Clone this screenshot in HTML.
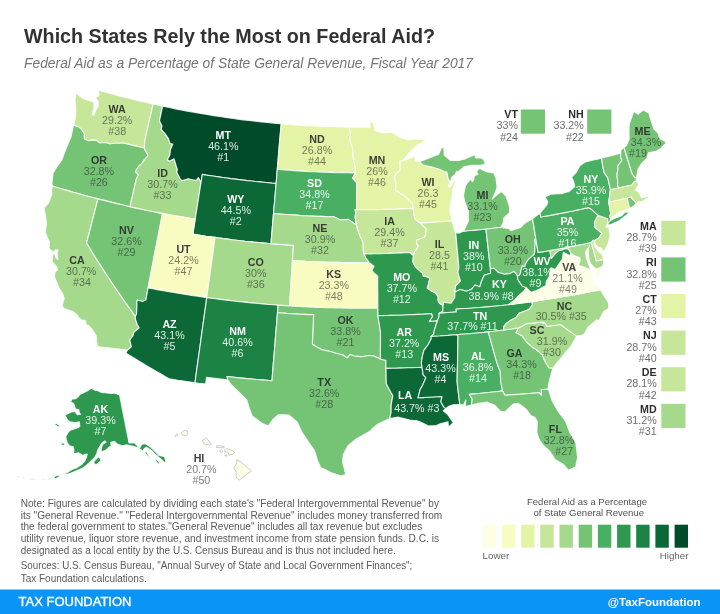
<!DOCTYPE html><html><head><meta charset="utf-8"><title>Which States Rely the Most on Federal Aid?</title>
<style>html,body{margin:0;padding:0;background:#fff}body{width:720px;height:614px;overflow:hidden}svg{display:block}text{font-family:"Liberation Sans",sans-serif}</style></head><body>
<svg width="720" height="614" viewBox="0 0 720 614">
<defs><filter id="soft" x="-2%" y="-2%" width="104%" height="104%"><feGaussianBlur stdDeviation="0.35"/></filter></defs>
<rect width="720" height="614" fill="#fff"/>
<g filter="url(#soft)">
<text x="24" y="43.3" font-size="21" font-weight="bold" fill="#333" textLength="411" lengthAdjust="spacingAndGlyphs">Which States Rely the Most on Federal Aid?</text>
<text x="24" y="67.7" font-size="14.5" font-style="italic" fill="#757575" textLength="449" lengthAdjust="spacingAndGlyphs">Federal Aid as a Percentage of State General Revenue, Fiscal Year 2017</text>
<g stroke="#fff" stroke-opacity="0.82" stroke-width="1.15" stroke-linejoin="round">
<path d="M73.5,125.1L74.9,119.6L75.6,115.6L75.7,112.3L75.7,108.9L75.4,104.5L75.0,100.1L75.5,96.5L76.1,92.9L78.4,94.8L80.8,96.7L83.1,98.5L85.7,99.4L88.3,100.2L90.9,101.0L94.1,102.4L93.9,108.1L93.0,111.3L92.2,114.6L94.0,115.1L95.8,110.2L98.5,105.5L98.1,101.5L96.0,98.6L96.3,96.8L98.5,96.2L99.1,94.1L97.7,89.8L101.3,90.9L105.0,91.9L108.7,92.9L112.4,93.9L116.1,94.9L119.7,95.9L123.4,96.9L127.1,97.8L130.8,98.8L134.5,99.7L138.2,100.6L142.0,101.5L145.7,102.3L149.4,103.2L153.1,104.0L151.9,109.4L150.7,114.7L149.4,120.1L148.2,125.5L147.0,130.8L145.8,136.2L144.6,141.6L144.5,144.8L144.4,148.0L140.9,147.2L137.4,146.4L133.9,145.6L130.4,144.8L126.9,143.9L123.4,143.1L119.6,143.2L117.1,143.2L114.5,143.2L112.3,143.5L110.0,143.9L107.8,143.2L105.5,142.5L102.5,142.8L99.6,143.0L96.6,140.4L92.5,140.1L88.0,140.7L84.5,138.9L84.0,136.4L84.4,134.2L82.9,131.8L81.4,129.4L78.9,127.1L76.2,126.1Z" fill="#c6e79a"/>
<path d="M144.4,148.0L140.9,147.2L137.4,146.4L133.9,145.6L130.4,144.8L126.9,143.9L123.4,143.1L119.6,143.2L117.1,143.2L114.5,143.2L112.3,143.5L110.0,143.9L107.8,143.2L105.5,142.5L102.5,142.8L99.6,143.0L96.6,140.4L92.5,140.1L88.0,140.7L84.5,138.9L84.0,136.4L84.4,134.2L82.9,131.8L81.4,129.4L78.9,127.1L76.2,126.1L73.5,125.1L72.3,130.8L71.1,136.5L68.8,142.1L66.4,147.7L64.8,151.9L63.2,156.2L61.6,160.4L59.2,163.6L56.8,166.8L55.0,169.9L53.2,173.0L52.7,176.3L52.3,179.7L51.9,184.8L53.0,186.2L57.1,187.5L61.2,188.7L65.2,189.9L69.3,191.1L73.4,192.3L77.5,193.4L81.6,194.5L85.7,195.7L89.8,196.8L93.9,197.8L98.0,198.9L102.0,199.9L106.0,200.9L110.0,201.9L114.0,202.9L118.0,203.9L122.0,204.8L126.0,205.7L130.0,206.7L131.2,201.2L132.5,195.8L133.7,190.4L134.9,185.0L136.1,179.7L137.5,176.6L138.6,175.0L135.9,172.3L136.1,170.1L138.9,166.1L141.7,163.6L144.4,159.6L147.5,156.4L147.6,154.1L145.3,150.5Z" fill="#74c476"/>
<path d="M53.0,186.2L57.1,187.5L61.2,188.7L65.2,189.9L69.3,191.1L73.4,192.3L77.5,193.4L81.6,194.5L85.7,195.7L89.8,196.8L93.9,197.8L98.0,198.9L96.6,204.4L95.1,209.9L93.7,215.4L92.3,220.9L90.9,226.4L89.5,232.0L88.0,237.5L86.6,243.0L89.9,248.3L93.1,253.6L96.4,258.9L99.8,264.1L103.2,269.4L106.6,274.7L110.1,279.9L113.6,285.2L117.1,290.4L120.7,295.6L124.3,300.8L128.0,306.0L131.7,311.2L135.4,316.4L135.3,318.7L137.3,324.5L139.2,327.9L133.9,332.3L132.9,336.0L129.8,340.0L130.6,343.4L131.4,346.9L127.5,350.0L123.2,349.6L118.9,349.1L114.6,348.6L110.3,348.1L106.0,347.6L101.7,347.1L97.4,346.5L96.6,341.4L96.2,335.9L93.9,332.2L91.5,328.6L88.4,325.4L86.0,324.9L85.7,320.7L82.1,320.1L78.8,317.7L77.0,314.6L74.9,313.1L72.8,311.5L68.3,310.0L63.8,308.4L62.1,305.9L63.1,302.1L64.2,298.3L62.6,293.7L60.8,290.6L58.9,287.5L56.6,282.1L54.3,276.8L55.0,272.2L57.5,269.8L57.0,267.3L54.7,264.6L52.3,262.0L52.2,257.2L53.2,253.6L54.7,253.5L56.3,258.8L58.0,259.3L56.9,253.8L58.1,250.2L55.6,249.5L53.6,252.4L51.2,250.4L48.9,248.4L49.5,242.2L47.3,237.2L45.2,232.2L45.8,228.0L46.5,223.9L45.9,219.6L45.4,215.3L44.7,211.8L44.1,208.2L46.4,205.3L48.8,202.4L50.4,198.1L52.0,193.9L51.4,189.2Z" fill="#a5da8d"/>
<path d="M98.0,198.9L102.0,199.9L106.0,200.9L110.0,201.9L114.0,202.9L118.0,203.9L122.0,204.8L126.0,205.7L130.0,206.7L134.1,207.6L138.1,208.4L142.2,209.3L146.2,210.2L150.3,211.0L154.4,211.8L158.4,212.6L162.5,213.4L161.4,219.1L160.3,224.9L159.2,230.6L158.1,236.3L157.0,242.0L155.8,247.8L154.7,253.5L153.6,259.2L152.5,265.0L151.4,270.7L150.3,276.4L149.2,282.2L148.1,287.9L147.0,293.9L145.9,299.9L142.4,301.5L139.8,300.8L137.2,300.0L136.9,302.7L136.9,307.4L136.7,310.8L136.5,314.3L135.4,316.4L131.7,311.2L128.0,306.0L124.3,300.8L120.7,295.6L117.1,290.4L113.6,285.2L110.1,279.9L106.6,274.7L103.2,269.4L99.8,264.1L96.4,258.9L93.1,253.6L89.9,248.3L86.6,243.0L88.0,237.5L89.5,232.0L90.9,226.4L92.3,220.9L93.7,215.4L95.1,209.9L96.6,204.4Z" fill="#74c476"/>
<path d="M153.1,104.0L156.3,104.8L159.5,105.5L162.7,106.1L161.6,111.0L160.6,115.8L159.5,120.7L161.9,125.8L161.3,129.5L163.0,131.4L164.7,133.2L166.6,135.9L168.4,138.6L170.0,143.5L172.8,144.0L170.4,149.7L169.9,154.9L167.4,159.5L169.2,161.2L174.0,158.8L175.0,162.0L176.1,165.7L177.3,169.3L176.8,172.3L178.6,175.7L180.4,179.1L181.8,180.6L185.0,179.7L188.1,178.8L190.3,179.2L192.6,179.7L196.5,180.3L198.3,177.6L201.1,182.2L200.2,187.4L199.4,192.7L198.6,198.0L197.7,203.3L196.9,208.6L196.0,213.9L195.2,219.2L191.1,218.5L187.0,217.8L182.9,217.1L178.8,216.4L174.7,215.7L170.7,215.0L166.6,214.2L162.5,213.4L158.4,212.6L154.4,211.8L150.3,211.0L146.2,210.2L142.2,209.3L138.1,208.4L134.1,207.6L130.0,206.7L131.2,201.2L132.5,195.8L133.7,190.4L134.9,185.0L136.1,179.7L137.5,176.6L138.6,175.0L135.9,172.3L136.1,170.1L138.9,166.1L141.7,163.6L144.4,159.6L147.5,156.4L147.6,154.1L145.3,150.5L144.4,148.0L144.5,144.8L144.6,141.6L145.8,136.2L147.0,130.8L148.2,125.5L149.4,120.1L150.7,114.7L151.9,109.4Z" fill="#a5da8d"/>
<path d="M162.7,106.1L166.6,107.0L170.5,107.8L174.4,108.6L178.3,109.4L182.2,110.1L186.2,110.9L190.1,111.6L194.0,112.3L198.0,113.0L201.9,113.7L205.8,114.3L209.8,115.0L213.7,115.6L217.7,116.2L221.6,116.8L225.6,117.4L229.5,118.0L233.5,118.5L237.5,119.1L241.4,119.6L245.4,120.1L249.4,120.5L253.3,121.0L257.3,121.5L261.3,121.9L265.2,122.3L269.2,122.7L273.2,123.1L277.2,123.4L281.2,123.8L280.7,129.5L280.2,135.1L279.7,140.8L279.2,146.5L278.7,152.2L278.3,157.9L277.8,163.6L277.3,169.3L276.9,174.0L276.5,178.7L276.1,183.4L272.0,183.1L267.9,182.7L263.8,182.3L259.6,181.9L255.5,181.5L251.4,181.0L247.3,180.6L243.2,180.1L239.1,179.6L235.0,179.1L230.9,178.6L226.8,178.0L222.7,177.5L218.7,176.9L214.6,176.3L210.5,175.7L206.4,175.1L202.3,174.4L201.7,178.3L201.1,182.2L198.3,177.6L196.5,180.3L192.6,179.7L190.3,179.2L188.1,178.8L185.0,179.7L181.8,180.6L180.4,179.1L178.6,175.7L176.8,172.3L177.3,169.3L176.1,165.7L175.0,162.0L174.0,158.8L169.2,161.2L167.4,159.5L169.9,154.9L170.4,149.7L172.8,144.0L170.0,143.5L168.4,138.6L166.6,135.9L164.7,133.2L163.0,131.4L161.3,129.5L161.9,125.8L159.5,120.7L160.6,115.8L161.6,111.0Z" fill="#054c2b"/>
<path d="M276.1,183.4L272.0,183.1L267.9,182.7L263.8,182.3L259.6,181.9L255.5,181.5L251.4,181.0L247.3,180.6L243.2,180.1L239.1,179.6L235.0,179.1L230.9,178.6L226.8,178.0L222.7,177.5L218.7,176.9L214.6,176.3L210.5,175.7L206.4,175.1L202.3,174.4L201.7,178.3L201.1,182.2L200.2,187.4L199.4,192.7L198.6,198.0L197.7,203.3L196.9,208.6L196.0,213.9L195.2,219.2L194.4,224.2L193.6,229.1L192.8,234.1L197.2,234.8L201.7,235.5L206.1,236.2L210.6,236.8L215.1,237.4L219.3,238.0L223.6,238.6L227.9,239.1L232.2,239.7L236.5,240.2L240.8,240.7L245.1,241.2L249.4,241.6L253.7,242.1L258.0,242.5L262.4,242.9L266.7,243.3L271.0,243.7L271.5,237.6L272.0,231.6L272.5,225.6L273.0,219.5L273.5,213.5L274.0,207.5L274.6,201.5L275.1,195.4L275.6,189.4Z" fill="#0b6837"/>
<path d="M162.5,213.4L166.6,214.2L170.7,215.0L174.7,215.7L178.8,216.4L182.9,217.1L187.0,217.8L191.1,218.5L195.2,219.2L194.4,224.2L193.6,229.1L192.8,234.1L197.2,234.8L201.7,235.5L206.1,236.2L210.6,236.8L215.1,237.4L214.2,243.5L213.4,249.5L212.6,255.5L211.7,261.5L210.9,267.5L210.1,273.5L209.2,279.5L208.4,285.6L207.6,291.6L206.7,297.6L202.2,297.0L197.7,296.3L193.2,295.6L188.6,294.9L184.1,294.2L179.6,293.5L175.1,292.8L170.6,292.0L166.1,291.2L161.6,290.4L157.1,289.6L152.6,288.8L148.1,287.9L149.2,282.2L150.3,276.4L151.4,270.7L152.5,265.0L153.6,259.2L154.7,253.5L155.8,247.8L157.0,242.0L158.1,236.3L159.2,230.6L160.3,224.9L161.4,219.1Z" fill="#f9fcc0"/>
<path d="M215.1,237.4L219.3,238.0L223.6,238.6L227.9,239.1L232.2,239.7L236.5,240.2L240.8,240.7L245.1,241.2L249.4,241.6L253.7,242.1L258.0,242.5L262.4,242.9L266.7,243.3L271.0,243.7L275.5,244.1L280.0,244.4L284.4,244.7L288.9,245.1L293.4,245.4L293.1,250.4L292.8,255.4L292.5,260.5L292.1,266.2L291.7,271.9L291.4,277.5L291.0,283.2L290.6,288.9L290.3,294.6L289.9,300.3L289.6,305.9L285.7,305.7L281.9,305.4L278.1,305.2L273.6,304.8L269.1,304.5L264.6,304.1L260.2,303.7L255.7,303.3L251.3,302.9L246.8,302.4L242.3,301.9L237.9,301.5L233.4,301.0L229.0,300.4L224.5,299.9L220.1,299.4L215.6,298.8L211.2,298.2L206.7,297.6L207.6,291.6L208.4,285.6L209.2,279.5L210.1,273.5L210.9,267.5L211.7,261.5L212.6,255.5L213.4,249.5L214.2,243.5Z" fill="#a5da8d"/>
<path d="M148.1,287.9L152.6,288.8L157.1,289.6L161.6,290.4L166.1,291.2L170.6,292.0L175.1,292.8L179.6,293.5L184.1,294.2L188.6,294.9L193.2,295.6L197.7,296.3L202.2,297.0L206.7,297.6L206.0,303.3L205.2,309.0L204.4,314.6L203.6,320.3L202.8,326.0L202.0,331.7L201.2,337.4L200.5,343.0L199.7,348.7L198.9,354.4L198.1,360.0L197.3,365.7L196.5,371.4L195.8,377.0L195.0,382.7L190.7,382.1L186.5,381.5L182.2,380.8L177.9,380.2L173.7,379.5L169.4,378.9L165.0,376.4L160.6,373.8L156.1,371.3L151.8,368.7L147.4,366.2L143.0,363.6L138.7,361.0L134.4,358.3L130.1,355.7L125.8,353.1L127.5,350.0L131.4,346.9L130.6,343.4L129.8,340.0L132.9,336.0L133.9,332.3L139.2,327.9L137.3,324.5L135.3,318.7L135.4,316.4L136.5,314.3L136.7,310.8L136.9,307.4L136.9,302.7L137.2,300.0L139.8,300.8L142.4,301.5L145.9,299.9L147.0,293.9Z" fill="#0b6837"/>
<path d="M206.7,297.6L211.2,298.2L215.6,298.8L220.1,299.4L224.5,299.9L229.0,300.4L233.4,301.0L237.9,301.5L242.3,301.9L246.8,302.4L251.3,302.9L255.7,303.3L260.2,303.7L264.6,304.1L269.1,304.5L273.6,304.8L278.1,305.2L277.8,308.9L277.5,312.7L277.0,318.4L276.6,324.1L276.1,329.7L275.6,335.4L275.2,341.1L274.7,346.7L274.3,352.4L273.8,358.1L273.3,363.7L272.9,369.4L272.4,375.0L272.0,380.7L266.9,380.3L261.9,379.9L256.9,379.5L251.9,379.0L246.9,378.6L241.9,378.1L237.0,377.6L232.0,377.0L227.0,376.5L227.7,379.9L223.5,379.4L219.2,378.9L215.0,378.4L210.8,377.9L206.5,377.4L206.1,380.7L205.6,384.1L202.1,383.6L198.5,383.2L195.0,382.7L195.8,377.0L196.5,371.4L197.3,365.7L198.1,360.0L198.9,354.4L199.7,348.7L200.5,343.0L201.2,337.4L202.0,331.7L202.8,326.0L203.6,320.3L204.4,314.6L205.2,309.0L206.0,303.3Z" fill="#1b8344"/>
<path d="M281.2,123.8L284.9,124.1L288.7,124.4L292.5,124.7L296.2,124.9L300.0,125.2L303.8,125.4L307.6,125.7L311.4,125.9L315.1,126.1L318.9,126.2L322.7,126.4L326.5,126.5L330.3,126.7L334.1,126.8L337.8,126.9L341.6,127.0L345.4,127.1L349.2,127.1L350.4,133.1L349.8,139.0L350.8,143.5L352.8,148.0L352.9,152.5L352.9,157.0L354.1,162.2L355.2,167.5L355.6,172.9L351.5,172.9L347.4,172.8L343.2,172.7L339.1,172.7L335.0,172.6L330.8,172.4L326.7,172.3L322.6,172.2L318.5,172.0L314.4,171.8L310.2,171.6L306.1,171.4L302.0,171.1L297.9,170.9L293.7,170.6L289.6,170.3L285.5,170.0L281.4,169.7L277.3,169.3L277.8,163.6L278.3,157.9L278.7,152.2L279.2,146.5L279.7,140.8L280.2,135.1L280.7,129.5Z" fill="#e3f4a6"/>
<path d="M355.6,172.9L351.5,172.9L347.4,172.8L343.2,172.7L339.1,172.7L335.0,172.6L330.8,172.4L326.7,172.3L322.6,172.2L318.5,172.0L314.4,171.8L310.2,171.6L306.1,171.4L302.0,171.1L297.9,170.9L293.7,170.6L289.6,170.3L285.5,170.0L281.4,169.7L277.3,169.3L276.9,174.0L276.5,178.7L276.1,183.4L275.6,189.4L275.1,195.4L274.6,201.5L274.0,207.5L273.5,213.5L277.9,213.9L282.2,214.2L286.5,214.5L290.8,214.8L295.2,215.1L299.5,215.4L303.8,215.6L308.1,215.9L312.5,216.1L316.8,216.3L321.1,216.4L325.5,216.6L329.8,216.7L334.1,216.9L337.4,218.5L340.6,220.0L344.5,219.7L348.3,219.4L351.0,221.3L353.8,223.3L356.5,224.8L355.8,221.0L355.1,217.2L355.8,212.7L355.0,209.7L356.6,209.7L356.6,204.2L356.6,198.8L356.7,193.4L356.7,187.9L356.7,182.5L352.5,178.0Z" fill="#49b063"/>
<path d="M356.5,224.8L353.8,223.3L351.0,221.3L348.3,219.4L344.5,219.7L340.6,220.0L337.4,218.5L334.1,216.9L329.8,216.7L325.5,216.6L321.1,216.4L316.8,216.3L312.5,216.1L308.1,215.9L303.8,215.6L299.5,215.4L295.2,215.1L290.8,214.8L286.5,214.5L282.2,214.2L277.9,213.9L273.5,213.5L273.0,219.5L272.5,225.6L272.0,231.6L271.5,237.6L271.0,243.7L275.5,244.1L280.0,244.4L284.4,244.7L288.9,245.1L293.4,245.4L293.1,250.4L292.8,255.4L292.5,260.5L297.0,260.8L301.5,261.0L306.0,261.3L310.5,261.5L315.1,261.7L319.6,261.9L324.1,262.0L328.6,262.2L333.1,262.3L337.7,262.4L342.2,262.5L346.7,262.6L351.2,262.6L355.8,262.7L360.3,262.7L364.8,262.7L369.3,262.7L366.0,258.1L364.1,253.9L363.2,250.5L363.2,246.9L363.2,243.3L362.4,240.7L360.4,236.9L359.0,233.1L357.6,229.3Z" fill="#a5da8d"/>
<path d="M369.3,262.7L364.8,262.7L360.3,262.7L355.8,262.7L351.2,262.6L346.7,262.6L342.2,262.5L337.7,262.4L333.1,262.3L328.6,262.2L324.1,262.0L319.6,261.9L315.1,261.7L310.5,261.5L306.0,261.3L301.5,261.0L297.0,260.8L292.5,260.5L292.1,266.2L291.7,271.9L291.4,277.5L291.0,283.2L290.6,288.9L290.3,294.6L289.9,300.3L289.6,305.9L294.2,306.2L298.8,306.5L303.5,306.7L308.1,307.0L312.8,307.2L317.4,307.4L322.1,307.5L326.7,307.7L331.4,307.8L336.0,308.0L340.7,308.0L345.3,308.1L350.0,308.2L354.6,308.2L359.3,308.2L363.9,308.2L368.6,308.2L373.2,308.2L377.9,308.1L377.8,302.8L377.8,297.4L377.8,292.0L377.7,286.7L377.7,281.3L377.7,275.9L374.2,273.2L371.8,270.2L374.1,266.4L371.7,264.5Z" fill="#f9fcc0"/>
<path d="M377.9,308.1L373.2,308.2L368.6,308.2L363.9,308.2L359.3,308.2L354.6,308.2L350.0,308.2L345.3,308.1L340.7,308.0L336.0,308.0L331.4,307.8L326.7,307.7L322.1,307.5L317.4,307.4L312.8,307.2L308.1,307.0L303.5,306.7L298.8,306.5L294.2,306.2L289.6,305.9L285.7,305.7L281.9,305.4L278.1,305.2L277.8,308.9L277.5,312.7L282.0,313.0L286.5,313.4L291.0,313.6L295.5,313.9L300.0,314.2L304.6,314.4L309.1,314.6L313.6,314.8L313.3,320.7L313.1,326.6L312.8,332.5L312.6,338.3L312.4,344.2L314.8,345.7L317.2,347.2L322.0,349.8L326.3,350.6L330.6,351.5L333.7,352.5L336.7,353.5L339.8,354.3L342.9,355.1L347.2,357.9L350.3,354.5L354.0,356.0L357.8,356.4L361.5,356.8L364.6,356.2L367.7,355.6L370.8,355.8L373.9,356.0L377.1,357.5L380.4,359.1L380.4,353.7L380.4,348.4L380.5,343.0L380.5,337.7L380.5,332.4L379.7,326.8L378.8,321.3L378.0,315.7L377.9,311.9Z" fill="#74c476"/>
<path d="M380.4,359.1L377.1,357.5L373.9,356.0L370.8,355.8L367.7,355.6L364.6,356.2L361.5,356.8L357.8,356.4L354.0,356.0L350.3,354.5L347.2,357.9L342.9,355.1L339.8,354.3L336.7,353.5L333.7,352.5L330.6,351.5L326.3,350.6L322.0,349.8L317.2,347.2L314.8,345.7L312.4,344.2L312.6,338.3L312.8,332.5L313.1,326.6L313.3,320.7L313.6,314.8L309.1,314.6L304.6,314.4L300.0,314.2L295.5,313.9L291.0,313.6L286.5,313.4L282.0,313.0L277.5,312.7L277.0,318.4L276.6,324.1L276.1,329.7L275.6,335.4L275.2,341.1L274.7,346.7L274.3,352.4L273.8,358.1L273.3,363.7L272.9,369.4L272.4,375.0L272.0,380.7L266.9,380.3L261.9,379.9L256.9,379.5L251.9,379.0L246.9,378.6L241.9,378.1L237.0,377.6L232.0,377.0L227.0,376.5L227.7,379.9L231.4,385.0L234.9,388.4L238.4,391.7L242.6,395.7L246.7,399.8L247.8,403.4L248.9,407.1L250.5,411.5L252.1,416.0L256.9,419.5L261.7,423.0L264.9,424.5L268.1,426.0L270.3,423.0L272.4,420.0L278.0,414.8L280.7,414.8L283.3,414.7L286.2,414.9L289.1,415.1L293.2,418.7L297.3,422.3L299.6,427.3L302.0,432.3L306.2,438.5L310.3,444.7L314.6,450.8L316.0,455.4L317.3,459.9L319.0,463.7L320.7,467.5L325.8,470.0L330.8,472.6L335.9,474.2L341.0,475.7L345.8,474.6L344.7,470.4L343.6,466.2L342.6,462.0L342.9,458.3L343.3,454.6L345.7,450.1L348.1,445.6L352.2,442.3L356.2,439.0L361.0,436.2L365.9,433.5L370.7,430.7L373.3,427.7L378.5,423.8L382.2,422.0L386.0,420.2L389.7,418.4L390.4,415.3L391.1,412.3L391.1,408.6L391.2,404.8L392.0,400.2L392.9,395.7L391.2,392.7L389.5,389.7L386.3,383.8L386.2,378.6L386.1,373.5L386.0,368.3L385.9,364.3L385.9,360.3L383.1,359.7Z" fill="#74c476"/>
<path d="M349.2,127.1L352.6,127.2L356.1,127.2L359.6,127.2L363.0,127.2L366.5,127.2L370.0,127.2L369.9,121.5L373.4,122.2L374.2,126.5L375.0,130.8L377.9,131.5L380.7,132.2L383.6,132.9L386.1,132.6L388.6,132.3L392.1,132.3L395.5,134.6L398.8,136.9L401.9,137.9L405.0,138.9L408.1,139.9L411.4,139.5L414.6,139.1L417.8,139.3L421.0,139.5L424.2,139.7L427.4,139.8L424.1,141.5L420.8,143.2L417.5,144.9L413.6,148.5L409.7,152.1L406.3,156.4L402.9,160.6L399.9,161.4L400.1,165.8L400.2,170.2L398.2,171.9L396.1,173.7L394.1,177.5L395.8,181.9L395.7,186.1L395.6,190.2L398.3,192.0L401.0,193.8L405.5,196.6L408.8,199.9L412.2,203.1L413.3,208.4L409.3,208.6L405.2,208.7L401.2,208.9L397.1,209.1L393.1,209.2L389.0,209.3L385.0,209.4L380.9,209.5L376.9,209.6L372.8,209.6L368.8,209.6L364.7,209.7L360.6,209.7L356.6,209.7L356.6,204.2L356.6,198.8L356.7,193.4L356.7,187.9L356.7,182.5L352.5,178.0L355.6,172.9L355.2,167.5L354.1,162.2L352.9,157.0L352.9,152.5L352.8,148.0L350.8,143.5L349.8,139.0L350.4,133.1Z" fill="#e3f4a6"/>
<path d="M413.3,208.4L409.3,208.6L405.2,208.7L401.2,208.9L397.1,209.1L393.1,209.2L389.0,209.3L385.0,209.4L380.9,209.5L376.9,209.6L372.8,209.6L368.8,209.6L364.7,209.7L360.6,209.7L356.6,209.7L355.0,209.7L355.8,212.7L355.1,217.2L355.8,221.0L356.5,224.8L357.6,229.3L359.0,233.1L360.4,236.9L362.4,240.7L363.2,243.3L363.2,246.9L363.2,250.5L364.1,253.9L368.2,253.8L372.4,253.8L376.6,253.7L380.7,253.6L384.9,253.5L389.0,253.4L393.2,253.2L397.3,253.1L401.5,252.9L405.6,252.7L409.8,252.5L413.5,255.7L414.6,251.8L417.0,248.8L418.3,246.0L416.4,243.1L416.8,240.0L420.7,238.7L424.5,237.3L426.0,233.4L426.3,228.9L423.3,226.0L420.4,223.1L417.9,221.4L415.5,219.6L413.9,215.1L413.6,211.8Z" fill="#c6e79a"/>
<path d="M413.5,255.7L409.8,252.5L405.6,252.7L401.5,252.9L397.3,253.1L393.2,253.2L389.0,253.4L384.9,253.5L380.7,253.6L376.6,253.7L372.4,253.8L368.2,253.8L364.1,253.9L366.0,258.1L369.3,262.7L371.7,264.5L374.1,266.4L371.8,270.2L374.2,273.2L377.7,275.9L377.7,281.3L377.7,286.7L377.8,292.0L377.8,297.4L377.8,302.8L377.9,308.1L377.9,311.9L378.0,315.7L382.5,315.6L386.9,315.5L391.4,315.4L395.8,315.3L400.3,315.2L404.8,315.0L409.2,314.8L413.7,314.6L418.1,314.4L422.6,314.2L427.0,313.9L431.5,313.7L432.3,316.7L429.3,321.4L433.3,321.2L437.4,320.9L438.9,317.0L439.2,313.2L442.7,311.4L443.1,305.6L439.5,303.3L438.2,301.1L438.1,296.0L434.3,292.2L431.2,290.9L427.3,288.1L428.3,285.0L429.1,281.4L429.7,278.8L428.9,277.5L425.7,276.4L423.4,276.4L422.4,273.1L418.4,269.6L414.8,265.9L412.8,261.5Z" fill="#2d9850"/>
<path d="M437.4,320.9L433.3,321.2L429.3,321.4L432.3,316.7L431.5,313.7L427.0,313.9L422.6,314.2L418.1,314.4L413.7,314.6L409.2,314.8L404.8,315.0L400.3,315.2L395.8,315.3L391.4,315.4L386.9,315.5L382.5,315.6L378.0,315.7L378.8,321.3L379.7,326.8L380.5,332.4L380.5,337.7L380.5,343.0L380.4,348.4L380.4,353.7L380.4,359.1L383.1,359.7L385.9,360.3L385.9,364.3L386.0,368.3L390.5,368.3L395.0,368.2L399.5,368.1L404.0,368.0L408.5,367.8L413.0,367.7L417.5,367.5L422.0,367.4L421.4,362.8L421.8,359.8L422.3,356.7L423.8,350.6L426.1,347.4L428.4,344.3L431.2,338.8L431.1,336.5L433.4,334.4L434.8,328.7L436.1,324.8Z" fill="#2d9850"/>
<path d="M422.0,367.4L417.5,367.5L413.0,367.7L408.5,367.8L404.0,368.0L399.5,368.1L395.0,368.2L390.5,368.3L386.0,368.3L386.1,373.5L386.2,378.6L386.3,383.8L389.5,389.7L391.2,392.7L392.9,395.7L392.0,400.2L391.2,404.8L391.1,408.6L391.1,412.3L390.4,415.3L389.7,418.4L393.8,417.7L398.0,417.1L401.9,418.1L405.9,419.1L409.9,420.0L413.1,420.3L416.4,420.5L419.8,421.8L423.1,423.2L428.5,425.9L432.5,425.7L436.4,425.5L440.2,423.7L444.1,422.7L448.0,421.7L448.4,426.9L450.9,424.9L453.3,422.8L450.4,418.5L447.5,414.2L443.3,410.7L445.8,408.6L443.7,406.9L440.8,401.8L442.0,396.5L437.2,396.8L432.4,397.0L427.6,397.3L422.8,397.6L418.0,397.8L419.1,393.6L420.2,389.4L422.5,385.5L424.2,381.6L425.9,377.7L423.2,374.9L422.6,371.1Z" fill="#0b6837"/>
<path d="M402.9,160.6L406.9,159.2L411.0,157.7L414.6,156.3L415.8,160.8L419.5,161.7L422.8,164.9L426.4,165.7L429.9,166.6L433.4,167.4L436.1,168.2L438.8,169.0L441.5,170.3L444.3,171.6L446.9,172.1L448.0,178.0L449.6,181.4L450.5,181.9L448.6,185.5L449.4,187.7L451.8,184.8L454.0,180.2L456.0,178.8L454.9,184.2L452.9,188.9L452.4,195.1L451.8,198.5L451.1,202.0L449.7,208.2L450.2,212.7L451.6,217.1L451.7,220.9L447.8,221.2L443.9,221.5L440.0,221.8L436.0,222.1L432.1,222.4L428.2,222.7L424.3,222.9L420.4,223.1L417.9,221.4L415.5,219.6L413.9,215.1L413.6,211.8L413.3,208.4L412.2,203.1L408.8,199.9L405.5,196.6L401.0,193.8L398.3,192.0L395.6,190.2L395.7,186.1L395.8,181.9L394.1,177.5L396.1,173.7L398.2,171.9L400.2,170.2L400.1,165.8L399.9,161.4Z" fill="#e3f4a6"/>
<path d="M420.4,223.1L424.3,222.9L428.2,222.7L432.1,222.4L436.0,222.1L440.0,221.8L443.9,221.5L447.8,221.2L451.7,220.9L453.2,225.7L454.8,230.5L455.7,232.7L456.3,238.6L456.8,244.5L457.3,250.4L457.9,256.4L458.4,262.3L458.9,268.2L457.9,272.1L459.1,276.6L460.4,281.0L458.0,283.5L455.6,286.0L455.2,289.1L454.9,292.2L454.8,297.5L451.1,303.2L448.1,302.9L443.8,302.2L443.1,305.6L439.5,303.3L438.2,301.1L438.1,296.0L434.3,292.2L431.2,290.9L427.3,288.1L428.3,285.0L429.1,281.4L429.7,278.8L428.9,277.5L425.7,276.4L423.4,276.4L422.4,273.1L418.4,269.6L414.8,265.9L412.8,261.5L413.5,255.7L414.6,251.8L417.0,248.8L418.3,246.0L416.4,243.1L416.8,240.0L420.7,238.7L424.5,237.3L426.0,233.4L426.3,228.9L423.3,226.0Z" fill="#c6e79a"/>
<path d="M455.7,232.7L459.5,233.1L463.5,231.1L467.3,230.8L471.0,230.5L474.7,230.1L478.5,229.8L482.2,229.5L485.9,229.1L486.6,234.8L487.2,240.4L487.9,246.1L488.5,251.8L489.1,257.4L489.8,263.1L490.4,268.8L490.6,273.3L487.5,274.2L484.4,275.1L482.7,278.8L481.1,282.5L479.8,286.8L474.9,285.0L471.7,289.1L468.9,290.2L466.0,291.2L463.0,290.3L460.0,289.5L457.4,290.8L454.9,292.2L455.2,289.1L455.6,286.0L458.0,283.5L460.4,281.0L459.1,276.6L457.9,272.1L458.9,268.2L458.4,262.3L457.9,256.4L457.3,250.4L456.8,244.5L456.3,238.6Z" fill="#2d9850"/>
<path d="M500.9,227.2L503.5,222.0L503.6,218.2L506.5,215.5L509.5,212.8L509.5,206.6L507.8,201.5L506.1,196.4L501.5,191.4L499.3,193.0L497.1,194.6L494.6,196.9L492.2,199.1L493.9,195.4L495.6,191.8L497.1,187.0L496.5,182.5L495.9,178.0L493.7,173.0L490.1,172.4L486.6,171.7L482.9,170.0L479.3,168.3L476.5,171.4L477.9,174.3L474.3,175.9L473.5,180.1L472.3,181.7L471.2,178.8L469.2,180.9L467.1,183.0L465.3,186.2L464.4,190.9L463.5,195.5L464.7,201.5L466.5,206.2L468.4,211.0L468.3,215.9L468.3,220.9L465.6,227.2L463.5,231.1L467.3,230.8L471.0,230.5L474.7,230.1L478.5,229.8L482.2,229.5L485.9,229.1L489.7,228.7L493.4,228.2L497.1,227.7ZM419.5,161.7L422.1,160.8L424.6,159.8L427.9,158.4L431.1,157.1L434.9,155.7L438.7,154.3L440.0,151.2L441.3,148.1L443.8,147.2L444.0,151.1L444.2,155.0L447.4,157.8L450.5,160.5L453.3,160.5L456.2,160.5L459.0,160.4L461.5,159.8L464.1,159.2L467.6,157.7L471.2,156.2L474.7,154.7L476.0,158.1L478.0,158.0L480.1,157.8L483.5,159.2L485.6,163.9L482.5,164.7L479.5,165.4L477.8,165.2L474.4,165.2L471.0,165.2L467.6,166.0L464.1,166.8L461.6,168.9L459.0,171.0L456.4,171.7L455.1,174.4L451.5,177.4L450.5,181.9L449.6,181.4L448.0,178.0L446.9,172.1L444.3,171.6L441.5,170.3L438.8,169.0L436.1,168.2L433.4,167.4L429.9,166.6L426.4,165.7L422.8,164.9Z" fill="#74c476"/>
<path d="M485.9,229.1L489.7,228.7L493.4,228.2L497.1,227.7L500.9,227.2L503.5,227.7L506.1,228.2L509.3,228.7L510.9,230.6L515.2,229.2L517.9,228.4L520.6,227.5L524.0,223.8L526.8,222.0L529.6,220.3L532.5,218.7L533.4,223.7L534.2,228.7L535.0,233.7L535.8,238.7L534.5,239.9L535.3,242.8L534.9,247.2L535.0,249.9L534.3,254.2L531.6,256.6L528.9,258.9L527.2,261.2L525.6,264.0L524.8,266.7L522.4,266.0L521.7,268.0L521.0,270.1L520.5,273.2L519.1,275.7L517.4,275.7L513.8,271.4L510.0,273.6L507.1,273.9L504.2,274.2L501.1,273.3L498.1,272.4L494.1,268.3L490.4,268.8L489.8,263.1L489.1,257.4L488.5,251.8L487.9,246.1L487.2,240.4L486.6,234.8Z" fill="#74c476"/>
<path d="M517.4,275.7L513.8,271.4L510.0,273.6L507.1,273.9L504.2,274.2L501.1,273.3L498.1,272.4L494.1,268.3L490.4,268.8L490.6,273.3L487.5,274.2L484.4,275.1L482.7,278.8L481.1,282.5L479.8,286.8L474.9,285.0L471.7,289.1L468.9,290.2L466.0,291.2L463.0,290.3L460.0,289.5L457.4,290.8L454.9,292.2L454.8,297.5L451.1,303.2L448.1,302.9L443.8,302.2L443.1,305.6L442.7,311.4L439.2,313.2L443.5,312.9L447.8,312.5L452.1,312.2L456.3,311.9L456.1,309.1L460.9,308.8L465.6,308.5L470.4,308.2L475.2,307.8L479.9,307.5L484.7,307.1L489.5,306.6L494.2,306.2L499.0,305.7L503.7,305.3L508.5,304.8L511.6,302.4L514.7,300.1L518.9,295.7L521.1,293.8L523.2,292.0L526.5,287.8L522.3,286.0L520.1,282.9L517.9,279.7Z" fill="#2d9850"/>
<path d="M439.2,313.2L443.5,312.9L447.8,312.5L452.1,312.2L456.3,311.9L456.1,309.1L460.9,308.8L465.6,308.5L470.4,308.2L475.2,307.8L479.9,307.5L484.7,307.1L489.5,306.6L494.2,306.2L499.0,305.7L503.7,305.3L508.5,304.8L513.2,304.2L517.9,303.5L522.7,302.9L527.4,302.3L532.1,301.6L532.4,305.2L528.8,309.6L525.6,310.8L522.5,312.0L519.0,313.3L515.9,317.6L513.1,319.1L510.2,320.6L506.3,323.4L503.6,326.8L503.8,330.0L499.9,330.5L496.0,331.0L492.2,331.5L488.3,331.9L483.8,332.4L479.2,332.8L474.7,333.2L470.2,333.6L465.7,334.0L461.2,334.3L456.6,334.7L452.4,335.0L448.1,335.4L443.8,335.7L439.6,336.0L435.3,336.2L431.1,336.5L433.4,334.4L434.8,328.7L436.1,324.8L437.4,320.9L438.9,317.0Z" fill="#2d9850"/>
<path d="M431.1,336.5L435.3,336.2L439.6,336.0L443.8,335.7L448.1,335.4L452.4,335.0L456.6,334.7L458.0,336.2L457.9,341.9L457.8,347.6L457.7,353.3L457.6,359.0L457.5,364.7L457.3,370.4L457.2,376.1L457.1,381.7L457.7,387.4L458.4,393.1L459.1,398.8L459.8,404.5L456.5,404.6L453.3,404.7L448.2,406.6L445.8,408.6L443.7,406.9L440.8,401.8L442.0,396.5L437.2,396.8L432.4,397.0L427.6,397.3L422.8,397.6L418.0,397.8L419.1,393.6L420.2,389.4L422.5,385.5L424.2,381.6L425.9,377.7L423.2,374.9L422.6,371.1L422.0,367.4L421.4,362.8L421.8,359.8L422.3,356.7L423.8,350.6L426.1,347.4L428.4,344.3L431.2,338.8Z" fill="#0b6837"/>
<path d="M456.6,334.7L461.2,334.3L465.7,334.0L470.2,333.6L474.7,333.2L479.2,332.8L483.8,332.4L488.3,331.9L489.7,337.2L491.2,342.4L492.6,347.6L494.1,352.8L495.5,357.9L497.0,363.1L498.6,367.3L500.2,371.4L500.5,376.7L500.8,382.0L501.7,386.5L502.5,390.9L497.8,391.5L493.0,392.0L488.3,392.5L483.5,393.0L478.8,393.5L474.0,393.9L469.3,394.3L472.3,399.4L471.3,405.1L468.2,405.7L465.1,406.4L465.5,403.1L465.9,399.9L463.7,404.7L459.8,404.5L459.1,398.8L458.4,393.1L457.7,387.4L457.1,381.7L457.2,376.1L457.3,370.4L457.5,364.7L457.6,359.0L457.7,353.3L457.8,347.6L457.9,341.9L458.0,336.2Z" fill="#49b063"/>
<path d="M488.3,331.9L492.2,331.5L496.0,331.0L499.9,330.5L503.8,330.0L507.5,329.5L511.2,329.0L514.9,328.4L518.5,327.9L516.1,332.8L519.1,334.3L522.1,335.8L524.4,339.0L526.7,342.1L532.5,347.4L535.9,349.2L539.2,352.1L542.5,355.1L544.7,360.8L546.8,364.3L548.9,367.8L552.9,368.3L551.6,372.5L550.4,376.8L549.4,380.8L548.4,384.7L548.4,389.1L544.8,389.4L541.3,389.6L541.5,395.5L539.1,392.7L534.2,393.1L529.3,393.5L524.4,393.9L519.5,394.2L514.6,394.6L509.7,394.9L504.8,395.2L502.5,390.9L501.7,386.5L500.8,382.0L500.5,376.7L500.2,371.4L498.6,367.3L497.0,363.1L495.5,357.9L494.1,352.8L492.6,347.6L491.2,342.4L489.7,337.2Z" fill="#74c476"/>
<path d="M502.5,390.9L504.8,395.2L509.7,394.9L514.6,394.6L519.5,394.2L524.4,393.9L529.3,393.5L534.2,393.1L539.1,392.7L541.5,395.5L541.3,389.6L544.8,389.4L548.4,389.1L549.6,393.1L550.9,397.0L552.2,400.9L554.9,405.8L557.7,410.7L561.5,415.8L565.3,420.9L566.9,424.9L568.5,429.0L570.1,433.0L572.9,437.8L575.8,442.7L576.4,447.6L577.0,452.5L577.6,457.5L576.6,462.2L575.7,466.9L572.1,468.6L568.6,470.3L566.0,467.3L563.4,464.3L559.3,461.9L555.1,459.6L552.4,455.4L549.8,451.3L545.8,447.4L543.1,445.2L541.1,442.2L539.2,439.3L538.0,436.0L536.9,432.8L537.1,427.1L537.3,421.4L534.7,417.2L530.9,415.7L528.3,412.1L525.6,408.6L522.0,406.0L518.4,403.4L513.2,404.1L509.1,408.0L504.9,411.9L500.3,411.2L497.6,408.3L495.0,405.4L490.9,403.7L486.9,402.1L482.4,402.7L477.9,403.4L474.6,404.2L471.3,405.1L472.3,399.4L469.3,394.3L474.0,393.9L478.8,393.5L483.5,393.0L488.3,392.5L493.0,392.0L497.8,391.5Z" fill="#74c476"/>
<path d="M518.5,327.9L522.6,325.8L526.6,323.7L530.7,323.3L534.8,322.9L538.9,322.5L543.0,322.0L543.2,323.5L544.5,322.5L547.0,326.4L551.5,325.8L556.0,325.2L560.5,324.5L565.8,328.4L571.2,332.2L576.6,336.1L574.0,340.9L571.4,345.6L568.7,348.8L566.1,351.9L562.4,356.4L559.8,359.6L557.1,362.7L552.9,368.3L548.9,367.8L546.8,364.3L544.7,360.8L542.5,355.1L539.2,352.1L535.9,349.2L532.5,347.4L526.7,342.1L524.4,339.0L522.1,335.8L519.1,334.3L516.1,332.8Z" fill="#a5da8d"/>
<path d="M600.6,289.7L596.0,290.6L591.5,291.5L586.9,292.4L582.4,293.2L577.8,294.1L573.3,294.9L568.7,295.7L564.1,296.5L559.6,297.3L555.0,298.1L550.4,298.8L545.8,299.5L541.3,300.2L536.7,300.9L532.1,301.6L532.4,305.2L528.8,309.6L525.6,310.8L522.5,312.0L519.0,313.3L515.9,317.6L513.1,319.1L510.2,320.6L506.3,323.4L503.6,326.8L503.8,330.0L507.5,329.5L511.2,329.0L514.9,328.4L518.5,327.9L522.6,325.8L526.6,323.7L530.7,323.3L534.8,322.9L538.9,322.5L543.0,322.0L543.2,323.5L544.5,322.5L547.0,326.4L551.5,325.8L556.0,325.2L560.5,324.5L565.8,328.4L571.2,332.2L576.6,336.1L580.2,335.5L583.9,334.8L586.0,331.0L588.1,327.1L592.4,323.5L596.7,319.9L599.2,320.2L601.4,315.8L603.6,311.5L606.2,309.9L608.8,308.4L608.6,302.7L605.8,298.6L603.1,294.5Z" fill="#a5da8d"/>
<path d="M600.6,289.7L596.0,290.6L591.5,291.5L586.9,292.4L582.4,293.2L577.8,294.1L573.3,294.9L568.7,295.7L564.1,296.5L559.6,297.3L555.0,298.1L550.4,298.8L545.8,299.5L541.3,300.2L536.7,300.9L532.1,301.6L527.4,302.3L522.7,302.9L517.9,303.5L513.2,304.2L508.5,304.8L511.6,302.4L514.7,300.1L518.9,295.7L521.1,293.8L523.2,292.0L526.5,287.8L531.1,292.4L533.3,291.6L535.6,290.9L537.8,289.8L540.1,288.7L543.1,287.0L546.1,285.4L546.1,281.5L548.9,277.2L549.9,272.5L550.9,267.9L555.3,269.6L557.3,266.5L559.3,263.5L562.3,259.4L562.8,255.8L563.3,252.2L566.7,254.0L570.1,255.7L570.8,252.8L574.0,255.6L578.8,257.3L580.1,258.1L580.3,259.7L578.3,265.6L582.0,266.4L586.6,268.2L591.1,269.9L591.9,273.3L592.6,276.6L593.3,280.3L594.1,284.0L597.9,284.8ZM595.7,268.9L596.2,272.3L596.6,275.8L597.0,280.3L597.9,281.7L599.2,277.9L600.5,274.1L601.7,270.1L602.9,266.1L600.8,267.2L598.6,268.3Z" fill="#fefee6"/>
<path d="M526.5,287.8L531.1,292.4L533.3,291.6L535.6,290.9L537.8,289.8L540.1,288.7L543.1,287.0L546.1,285.4L546.1,281.5L548.9,277.2L549.9,272.5L550.9,267.9L555.3,269.6L557.3,266.5L559.3,263.5L562.3,259.4L562.8,255.8L563.3,252.2L566.7,254.0L570.1,255.7L570.8,252.8L568.6,248.9L564.4,248.5L562.3,249.8L558.4,250.8L554.9,253.8L551.2,258.3L550.5,254.4L549.8,250.5L545.9,251.2L542.0,251.9L538.1,252.5L537.3,247.9L536.6,243.3L535.8,238.7L534.5,239.9L535.3,242.8L534.9,247.2L535.0,249.9L534.3,254.2L531.6,256.6L528.9,258.9L527.2,261.2L525.6,264.0L524.8,266.7L522.4,266.0L521.7,268.0L521.0,270.1L520.5,273.2L519.1,275.7L517.4,275.7L517.9,279.7L520.1,282.9L522.3,286.0Z" fill="#2d9850"/>
<path d="M591.3,242.4L587.2,243.3L583.1,244.2L578.9,245.0L574.8,245.8L570.6,246.7L566.5,247.5L562.3,248.3L558.2,249.0L554.0,249.8L549.8,250.5L550.5,254.4L551.2,258.3L554.9,253.8L558.4,250.8L562.3,249.8L564.4,248.5L568.6,248.9L570.8,252.8L574.0,255.6L578.8,257.3L580.1,258.1L580.3,259.7L578.3,265.6L582.0,266.4L586.6,268.2L591.1,269.9L588.9,265.0L587.6,261.4L586.2,257.8L585.9,254.7L585.5,251.7L588.3,248.0L589.5,245.4L588.1,249.6L588.7,255.7L589.1,260.3L591.2,264.5L595.7,268.9L598.6,268.3L600.8,267.2L602.9,266.1L603.4,262.8L603.8,259.4L600.1,260.2L596.4,261.0L595.2,256.4L593.9,251.7L592.6,247.1Z" fill="#a5da8d"/>
<path d="M595.2,240.3L594.1,243.7L595.1,246.6L597.7,250.6L602.1,254.3L603.8,259.4L600.1,260.2L596.4,261.0L595.2,256.4L593.9,251.7L592.6,247.1L591.3,242.4L593.1,240.2Z" fill="#c6e79a"/>
<path d="M532.5,218.7L536.3,215.8L540.1,213.0L540.8,217.0L544.8,216.3L548.8,215.6L552.8,214.9L556.8,214.1L560.9,213.3L564.9,212.6L568.9,211.8L572.9,211.0L576.8,210.1L580.8,209.3L584.8,208.4L588.8,207.6L592.6,210.3L595.3,212.9L598.0,215.4L596.3,218.8L594.6,222.1L594.9,227.2L598.4,230.3L601.9,233.4L598.5,238.3L595.2,240.3L593.1,240.2L591.3,242.4L587.2,243.3L583.1,244.2L578.9,245.0L574.8,245.8L570.6,246.7L566.5,247.5L562.3,248.3L558.2,249.0L554.0,249.8L549.8,250.5L545.9,251.2L542.0,251.9L538.1,252.5L537.3,247.9L536.6,243.3L535.8,238.7L535.0,233.7L534.2,228.7L533.4,223.7Z" fill="#49b063"/>
<path d="M607.6,223.5L607.8,218.8L602.9,217.1L598.0,215.4L596.3,218.8L594.6,222.1L594.9,227.2L598.4,230.3L601.9,233.4L598.5,238.3L595.2,240.3L594.7,243.2L596.7,246.2L601.3,248.3L603.9,251.9L606.2,247.4L608.4,242.8L609.3,239.1L610.2,235.4L609.5,231.5L608.9,227.5L605.9,227.0Z" fill="#c6e79a"/>
<path d="M540.1,213.0L543.4,209.1L546.7,205.2L547.8,201.9L545.2,196.9L548.0,195.5L550.8,194.2L554.4,194.0L558.1,193.8L561.7,193.6L565.4,192.5L569.1,191.4L571.9,189.0L574.7,186.6L573.6,181.5L571.7,177.2L573.9,174.8L576.1,172.4L578.1,168.9L580.0,165.4L582.7,163.7L585.3,161.9L589.3,161.0L593.4,160.0L597.5,159.1L601.6,158.1L602.1,161.7L602.6,165.3L603.3,168.8L604.0,172.4L605.9,175.1L607.8,177.9L609.1,183.7L610.4,189.6L609.6,195.9L608.7,202.1L609.7,207.8L610.8,213.4L609.5,216.8L610.7,218.1L609.8,221.4L607.6,223.5L607.8,218.8L602.9,217.1L598.0,215.4L595.3,212.9L592.6,210.3L588.8,207.6L584.8,208.4L580.8,209.3L576.8,210.1L572.9,211.0L568.9,211.8L564.9,212.6L560.9,213.3L556.8,214.1L552.8,214.9L548.8,215.6L544.8,216.3L540.8,217.0ZM608.0,225.0L611.1,224.5L614.1,223.1L617.0,221.7L619.9,220.2L623.3,217.5L626.7,214.9L630.0,212.2L627.5,212.2L624.9,212.2L621.7,215.7L618.3,216.9L614.8,218.2L612.5,219.4L610.2,220.6L608.3,222.5Z" fill="#49b063"/>
<path d="M608.7,202.1L612.4,201.3L616.1,200.5L619.7,199.7L623.4,198.9L627.1,198.0L628.2,202.6L629.4,207.2L629.2,208.5L625.7,209.8L622.3,211.2L620.2,211.8L618.0,212.4L616.2,214.4L613.5,216.2L610.7,218.1L609.5,216.8L610.8,213.4L609.7,207.8Z" fill="#e3f4a6"/>
<path d="M627.1,198.0L629.3,197.4L631.6,196.8L632.0,198.6L634.7,201.1L636.4,203.8L632.8,206.7L629.2,208.5L629.4,207.2L628.2,202.6Z" fill="#74c476"/>
<path d="M610.4,189.6L609.6,195.9L608.7,202.1L612.4,201.3L616.1,200.5L619.7,199.7L623.4,198.9L627.1,198.0L629.3,197.4L631.6,196.8L632.0,198.6L634.7,201.1L636.4,203.8L638.3,201.7L641.3,201.9L644.8,199.9L648.3,197.8L646.9,193.8L643.9,192.4L645.6,193.4L646.8,196.5L644.0,197.1L641.3,197.7L639.4,192.4L635.2,190.1L637.1,187.0L639.0,183.8L636.0,181.1L634.1,181.6L631.6,185.0L627.4,185.9L623.3,186.8L619.1,187.8L616.2,188.4L613.3,189.0Z" fill="#c6e79a"/>
<path d="M601.6,158.1L605.4,157.1L609.3,156.1L613.1,155.1L617.0,154.1L620.8,153.0L620.5,156.9L621.9,160.2L620.0,163.0L618.0,165.7L618.0,168.6L617.1,174.1L617.3,177.8L617.7,181.9L617.7,186.2L619.1,187.8L616.2,188.4L613.3,189.0L610.4,189.6L609.1,183.7L607.8,177.9L605.9,175.1L604.0,172.4L603.3,168.8L602.6,165.3L602.1,161.7Z" fill="#74c476"/>
<path d="M620.8,153.0L621.0,149.7L624.0,147.6L625.6,152.9L627.2,158.1L628.9,163.4L630.5,168.6L632.2,173.8L635.0,177.5L636.4,177.9L636.0,181.1L634.1,181.6L631.6,185.0L627.4,185.9L623.3,186.8L619.1,187.8L617.7,186.2L617.7,181.9L617.3,177.8L617.1,174.1L618.0,168.6L618.0,165.7L620.0,163.0L621.9,160.2L620.5,156.9Z" fill="#74c476"/>
<path d="M624.0,147.6L626.4,145.4L629.1,139.2L629.0,133.0L629.1,128.7L629.2,124.4L631.5,117.8L633.7,111.2L638.1,114.3L640.7,112.1L643.3,110.0L646.0,111.4L648.7,112.9L650.4,118.2L652.1,123.5L653.8,128.9L658.1,133.0L659.9,138.8L662.6,140.1L665.2,141.5L666.1,143.1L663.7,145.5L661.4,147.9L658.6,149.7L655.8,151.4L652.1,152.1L648.4,152.8L646.7,158.5L644.1,161.1L641.5,163.7L638.3,168.4L637.1,174.1L636.4,177.9L635.0,177.5L632.2,173.8L630.5,168.6L628.9,163.4L627.2,158.1L625.6,152.9Z" fill="#74c476"/>
<path d="M119.5,394.7L117.8,394.2L116.2,393.7L114.5,393.2L113.0,393.3L111.5,393.3L110.0,393.3L108.4,393.1L106.9,393.0L105.4,392.7L103.5,392.6L101.7,392.5L99.9,391.7L98.1,390.8L96.3,390.4L94.6,390.1L93.4,389.4L92.2,388.8L91.0,388.2L89.3,389.5L87.5,390.8L85.7,391.7L83.8,392.6L81.9,393.4L80.0,394.2L78.3,396.6L76.9,397.7L75.5,398.8L73.9,398.9L72.2,398.9L70.5,401.4L72.1,402.6L73.7,403.8L74.4,405.5L75.4,408.8L77.2,409.4L79.0,409.9L79.1,412.5L80.6,414.3L79.0,414.5L77.3,414.7L76.1,413.1L75.0,411.4L73.1,411.7L71.3,411.9L69.2,412.9L67.1,414.0L65.0,415.0L66.2,417.6L67.5,420.3L68.7,421.0L69.8,421.8L71.6,422.1L73.4,422.4L75.2,422.6L77.3,422.2L79.3,421.8L79.6,423.7L79.8,426.6L78.3,427.4L76.8,428.1L74.7,428.8L72.6,429.4L70.6,429.9L68.2,432.2L65.7,436.6L66.4,439.9L67.2,442.8L69.4,445.8L71.3,446.3L73.2,446.8L74.0,450.7L73.4,453.5L75.9,453.2L78.4,452.7L80.4,454.0L82.3,455.2L84.1,454.7L86.0,454.1L87.3,454.4L86.3,457.3L85.3,460.1L83.7,462.2L82.0,464.2L79.2,466.1L76.4,467.9L74.1,468.7L71.8,469.5L69.6,470.9L67.5,472.2L65.1,472.9L62.7,473.6L65.4,473.8L68.1,474.1L70.5,473.2L72.9,472.3L75.3,471.3L77.7,470.2L80.0,469.3L82.3,468.4L84.6,466.7L86.8,465.0L89.1,462.9L91.2,460.9L93.1,459.1L94.9,457.2L96.8,453.5L97.6,450.4L100.1,446.1L101.8,442.9L103.3,441.9L104.8,440.9L106.1,442.1L104.3,443.3L102.4,444.4L101.3,449.2L101.1,451.9L103.6,451.0L106.1,450.1L108.6,447.5L111.1,446.0L110.7,442.3L112.6,441.8L114.5,441.4L116.8,443.8L119.2,444.8L121.6,445.8L124.2,445.4L126.8,444.9L128.8,445.3L130.9,445.7L133.2,446.3L135.7,447.1L138.3,447.8L140.6,449.4L143.0,451.0L144.3,448.4L146.5,447.3L150.1,449.5L153.3,452.3L156.0,454.8L158.6,457.2L160.9,459.2L163.2,461.2L164.6,462.4L165.8,461.4L164.7,456.7L161.6,455.9L158.5,455.1L156.9,453.1L154.0,450.3L151.2,447.5L148.3,445.6L145.5,443.7L143.6,444.0L141.8,444.2L140.8,446.1L139.7,448.0L137.0,445.4L134.3,442.8L131.7,442.9L129.0,442.9L128.1,438.0L127.1,433.2L126.1,428.3L125.2,423.5L124.2,418.7L123.3,413.8L122.3,409.0L121.4,404.2L120.4,399.4ZM144.5,452.2L146.7,451.6L149.1,455.9L150.5,458.7L148.1,456.7ZM154.5,458.6L156.5,459.1L159.7,463.0L158.8,464.4L156.4,461.9ZM100.2,458.2L101.1,460.9L99.4,462.0L96.9,464.4L94.3,464.4L93.8,461.5L96.6,458.8L98.5,456.7ZM65.2,443.5L63.5,445.9L62.1,445.1L60.8,444.3L61.4,442.8L63.3,443.1ZM60.8,426.4L59.3,426.6L57.8,426.8L56.1,425.6L54.3,424.3L56.3,423.2L57.8,424.4L59.4,425.6ZM60.8,475.4L58.7,476.9L56.5,478.3L53.2,478.7L55.3,476.0L58.0,475.1ZM51.9,477.4L48.4,479.9L47.4,480.2L50.2,477.6ZM45.0,479.0L42.1,479.9L43.0,479.1ZM36.4,480.0L33.7,479.8L30.9,479.4L28.6,479.0L31.1,478.8L33.5,478.6ZM25.0,478.6L21.5,478.5L23.3,477.5ZM19.6,477.2L17.7,477.1L15.8,476.9L18.3,475.9Z" fill="#2d9850"/>
</g>
<path d="M236.7,459.7L241.0,461.8L247.7,467.8L251.6,470.9L246.1,475.0L239.2,480.1L236.1,477.3L236.1,472.0L233.9,467.5L237.0,463.0ZM224.7,449.9L226.1,448.4L231.0,449.9L234.6,452.1L233.2,454.1L228.9,455.1L227.9,452.1L225.0,451.8ZM216.2,447.4L216.9,445.6L224.4,446.3L224.0,447.8L219.7,447.7ZM219.7,450.3L221.4,449.9L223.0,451.4L221.1,452.9ZM224.7,455.6L226.8,454.8L226.8,456.3ZM202.4,440.3L206.6,438.2L209.2,441.4L211.3,444.4L209.2,445.1L204.9,444.3L203.1,442.1ZM181.3,433.0L183.9,430.3L187.4,430.8L188.1,433.8L186.0,435.7L182.4,434.8ZM174.7,435.9L176.8,433.7L177.5,435.2L175.4,436.9Z" fill="#fefee6" stroke="#b9c4c4" stroke-width="0.8"/>
<rect x="520.8" y="109.5" width="24.2" height="24.2" fill="#74c476"/>
<rect x="587.2" y="109.5" width="24.2" height="24.2" fill="#74c476"/>
<rect x="661.3" y="220.8" width="24.2" height="24.2" fill="#c6e79a"/>
<rect x="661.3" y="257.4" width="24.2" height="24.2" fill="#74c476"/>
<rect x="661.3" y="294.0" width="24.2" height="24.2" fill="#e3f4a6"/>
<rect x="661.3" y="330.6" width="24.2" height="24.2" fill="#c6e79a"/>
<rect x="661.3" y="367.2" width="24.2" height="24.2" fill="#c6e79a"/>
<rect x="661.3" y="403.8" width="24.2" height="24.2" fill="#a5da8d"/>
<text x="117.2" y="112.5" font-size="10.7" fill="#2b2b2b" fill-opacity="0.9" text-anchor="middle" font-weight="bold">WA</text>
<text x="117.2" y="123.5" font-size="10.7" fill="#2b2b2b" fill-opacity="0.62" text-anchor="middle">29.2%</text>
<text x="117.2" y="134.5" font-size="10.7" fill="#2b2b2b" fill-opacity="0.62" text-anchor="middle">#38</text>
<text x="98.9" y="163.6" font-size="10.7" fill="#2b2b2b" fill-opacity="0.9" text-anchor="middle" font-weight="bold">OR</text>
<text x="98.9" y="174.6" font-size="10.7" fill="#2b2b2b" fill-opacity="0.62" text-anchor="middle">32.8%</text>
<text x="98.9" y="185.6" font-size="10.7" fill="#2b2b2b" fill-opacity="0.62" text-anchor="middle">#26</text>
<text x="162.5" y="176.9" font-size="10.7" fill="#2b2b2b" fill-opacity="0.9" text-anchor="middle" font-weight="bold">ID</text>
<text x="162.5" y="187.9" font-size="10.7" fill="#2b2b2b" fill-opacity="0.62" text-anchor="middle">30.7%</text>
<text x="162.5" y="198.9" font-size="10.7" fill="#2b2b2b" fill-opacity="0.62" text-anchor="middle">#33</text>
<text x="223.3" y="139.4" font-size="10.7" fill="#ffffff" text-anchor="middle" font-weight="bold">MT</text>
<text x="223.3" y="150.4" font-size="10.7" fill="#ffffff" fill-opacity="0.88" text-anchor="middle">46.1%</text>
<text x="223.3" y="161.4" font-size="10.7" fill="#ffffff" fill-opacity="0.88" text-anchor="middle">#1</text>
<text x="126.5" y="234.2" font-size="10.7" fill="#2b2b2b" fill-opacity="0.9" text-anchor="middle" font-weight="bold">NV</text>
<text x="126.5" y="245.2" font-size="10.7" fill="#2b2b2b" fill-opacity="0.62" text-anchor="middle">32.6%</text>
<text x="126.5" y="256.2" font-size="10.7" fill="#2b2b2b" fill-opacity="0.62" text-anchor="middle">#29</text>
<text x="235.8" y="202.6" font-size="10.7" fill="#ffffff" text-anchor="middle" font-weight="bold">WY</text>
<text x="235.8" y="213.6" font-size="10.7" fill="#ffffff" fill-opacity="0.88" text-anchor="middle">44.5%</text>
<text x="235.8" y="224.6" font-size="10.7" fill="#ffffff" fill-opacity="0.88" text-anchor="middle">#2</text>
<text x="183.5" y="253.4" font-size="10.7" fill="#2b2b2b" fill-opacity="0.9" text-anchor="middle" font-weight="bold">UT</text>
<text x="183.5" y="264.4" font-size="10.7" fill="#2b2b2b" fill-opacity="0.62" text-anchor="middle">24.2%</text>
<text x="183.5" y="275.4" font-size="10.7" fill="#2b2b2b" fill-opacity="0.62" text-anchor="middle">#47</text>
<text x="255.8" y="265.6" font-size="10.7" fill="#2b2b2b" fill-opacity="0.9" text-anchor="middle" font-weight="bold">CO</text>
<text x="255.8" y="276.6" font-size="10.7" fill="#2b2b2b" fill-opacity="0.62" text-anchor="middle">30%</text>
<text x="255.8" y="287.6" font-size="10.7" fill="#2b2b2b" fill-opacity="0.62" text-anchor="middle">#36</text>
<text x="314.5" y="187.1" font-size="10.7" fill="#ffffff" text-anchor="middle" font-weight="bold">SD</text>
<text x="314.5" y="198.1" font-size="10.7" fill="#ffffff" fill-opacity="0.88" text-anchor="middle">34.8%</text>
<text x="314.5" y="209.1" font-size="10.7" fill="#ffffff" fill-opacity="0.88" text-anchor="middle">#17</text>
<text x="320.0" y="232.4" font-size="10.7" fill="#2b2b2b" fill-opacity="0.9" text-anchor="middle" font-weight="bold">NE</text>
<text x="320.0" y="243.4" font-size="10.7" fill="#2b2b2b" fill-opacity="0.62" text-anchor="middle">30.9%</text>
<text x="320.0" y="254.4" font-size="10.7" fill="#2b2b2b" fill-opacity="0.62" text-anchor="middle">#32</text>
<text x="317.0" y="142.9" font-size="10.7" fill="#2b2b2b" fill-opacity="0.9" text-anchor="middle" font-weight="bold">ND</text>
<text x="317.0" y="153.9" font-size="10.7" fill="#2b2b2b" fill-opacity="0.62" text-anchor="middle">26.8%</text>
<text x="317.0" y="164.9" font-size="10.7" fill="#2b2b2b" fill-opacity="0.62" text-anchor="middle">#44</text>
<text x="333.8" y="278.1" font-size="10.7" fill="#2b2b2b" fill-opacity="0.9" text-anchor="middle" font-weight="bold">KS</text>
<text x="333.8" y="289.1" font-size="10.7" fill="#2b2b2b" fill-opacity="0.62" text-anchor="middle">23.3%</text>
<text x="333.8" y="300.1" font-size="10.7" fill="#2b2b2b" fill-opacity="0.62" text-anchor="middle">#48</text>
<text x="377.0" y="163.9" font-size="10.7" fill="#2b2b2b" fill-opacity="0.9" text-anchor="middle" font-weight="bold">MN</text>
<text x="377.0" y="174.9" font-size="10.7" fill="#2b2b2b" fill-opacity="0.62" text-anchor="middle">26%</text>
<text x="377.0" y="185.9" font-size="10.7" fill="#2b2b2b" fill-opacity="0.62" text-anchor="middle">#46</text>
<text x="428.0" y="186.4" font-size="10.7" fill="#2b2b2b" fill-opacity="0.9" text-anchor="middle" font-weight="bold">WI</text>
<text x="428.0" y="197.4" font-size="10.7" fill="#2b2b2b" fill-opacity="0.62" text-anchor="middle">26.3</text>
<text x="428.0" y="208.4" font-size="10.7" fill="#2b2b2b" fill-opacity="0.62" text-anchor="middle">#45</text>
<text x="389.5" y="224.6" font-size="10.7" fill="#2b2b2b" fill-opacity="0.9" text-anchor="middle" font-weight="bold">IA</text>
<text x="389.5" y="235.6" font-size="10.7" fill="#2b2b2b" fill-opacity="0.62" text-anchor="middle">29.4%</text>
<text x="389.5" y="246.6" font-size="10.7" fill="#2b2b2b" fill-opacity="0.62" text-anchor="middle">#37</text>
<text x="439.5" y="248.4" font-size="10.7" fill="#2b2b2b" fill-opacity="0.9" text-anchor="middle" font-weight="bold">IL</text>
<text x="439.5" y="259.4" font-size="10.7" fill="#2b2b2b" fill-opacity="0.62" text-anchor="middle">28.5</text>
<text x="439.5" y="270.4" font-size="10.7" fill="#2b2b2b" fill-opacity="0.62" text-anchor="middle">#41</text>
<text x="482.5" y="198.9" font-size="10.7" fill="#2b2b2b" fill-opacity="0.9" text-anchor="middle" font-weight="bold">MI</text>
<text x="482.5" y="209.9" font-size="10.7" fill="#2b2b2b" fill-opacity="0.62" text-anchor="middle">33.1%</text>
<text x="482.5" y="220.9" font-size="10.7" fill="#2b2b2b" fill-opacity="0.62" text-anchor="middle">#23</text>
<text x="567.5" y="224.6" font-size="10.7" fill="#ffffff" text-anchor="middle" font-weight="bold">PA</text>
<text x="567.5" y="235.6" font-size="10.7" fill="#ffffff" fill-opacity="0.88" text-anchor="middle">35%</text>
<text x="567.5" y="246.6" font-size="10.7" fill="#ffffff" fill-opacity="0.88" text-anchor="middle">#16</text>
<text x="591.0" y="183.4" font-size="10.7" fill="#ffffff" text-anchor="middle" font-weight="bold">NY</text>
<text x="591.0" y="194.4" font-size="10.7" fill="#ffffff" fill-opacity="0.88" text-anchor="middle">35.9%</text>
<text x="591.0" y="205.4" font-size="10.7" fill="#ffffff" fill-opacity="0.88" text-anchor="middle">#15</text>
<text x="512.8" y="243.1" font-size="10.7" fill="#2b2b2b" fill-opacity="0.9" text-anchor="middle" font-weight="bold">OH</text>
<text x="512.8" y="254.1" font-size="10.7" fill="#2b2b2b" fill-opacity="0.62" text-anchor="middle">33.9%</text>
<text x="512.8" y="265.1" font-size="10.7" fill="#2b2b2b" fill-opacity="0.62" text-anchor="middle">#20</text>
<text x="473.8" y="249.4" font-size="10.7" fill="#ffffff" text-anchor="middle" font-weight="bold">IN</text>
<text x="473.8" y="260.4" font-size="10.7" fill="#ffffff" fill-opacity="0.88" text-anchor="middle">38%</text>
<text x="473.8" y="271.4" font-size="10.7" fill="#ffffff" fill-opacity="0.88" text-anchor="middle">#10</text>
<text x="542.0" y="265.1" font-size="10.7" fill="#ffffff" text-anchor="middle" font-weight="bold">WV</text>
<text x="537.5" y="276.1" font-size="10.7" fill="#ffffff" fill-opacity="0.88" text-anchor="middle">38.1%</text>
<text x="535.5" y="287.1" font-size="10.7" fill="#ffffff" fill-opacity="0.88" text-anchor="middle">#9</text>
<text x="569.2" y="270.9" font-size="10.7" fill="#2b2b2b" fill-opacity="0.9" text-anchor="middle" font-weight="bold">VA</text>
<text x="567.5" y="281.9" font-size="10.7" fill="#2b2b2b" fill-opacity="0.62" text-anchor="middle">21.1%</text>
<text x="568.0" y="292.9" font-size="10.7" fill="#2b2b2b" fill-opacity="0.62" text-anchor="middle">#49</text>
<text x="345.5" y="323.9" font-size="10.7" fill="#2b2b2b" fill-opacity="0.9" text-anchor="middle" font-weight="bold">OK</text>
<text x="345.5" y="334.9" font-size="10.7" fill="#2b2b2b" fill-opacity="0.62" text-anchor="middle">33.8%</text>
<text x="345.5" y="345.9" font-size="10.7" fill="#2b2b2b" fill-opacity="0.62" text-anchor="middle">#21</text>
<text x="401.8" y="281.4" font-size="10.7" fill="#ffffff" text-anchor="middle" font-weight="bold">MO</text>
<text x="401.8" y="292.4" font-size="10.7" fill="#ffffff" fill-opacity="0.88" text-anchor="middle">37.7%</text>
<text x="401.8" y="303.4" font-size="10.7" fill="#ffffff" fill-opacity="0.88" text-anchor="middle">#12</text>
<text x="404.2" y="335.9" font-size="10.7" fill="#ffffff" text-anchor="middle" font-weight="bold">AR</text>
<text x="404.2" y="346.9" font-size="10.7" fill="#ffffff" fill-opacity="0.88" text-anchor="middle">37.2%</text>
<text x="404.2" y="357.9" font-size="10.7" fill="#ffffff" fill-opacity="0.88" text-anchor="middle">#13</text>
<text x="77.0" y="264.4" font-size="10.7" fill="#2b2b2b" fill-opacity="0.9" text-anchor="middle" font-weight="bold">CA</text>
<text x="81.2" y="275.4" font-size="10.7" fill="#2b2b2b" fill-opacity="0.62" text-anchor="middle">30.7%</text>
<text x="82.0" y="286.4" font-size="10.7" fill="#2b2b2b" fill-opacity="0.62" text-anchor="middle">#34</text>
<text x="169.5" y="328.4" font-size="10.7" fill="#ffffff" text-anchor="middle" font-weight="bold">AZ</text>
<text x="169.5" y="339.4" font-size="10.7" fill="#ffffff" fill-opacity="0.88" text-anchor="middle">43.1%</text>
<text x="169.5" y="350.4" font-size="10.7" fill="#ffffff" fill-opacity="0.88" text-anchor="middle">#5</text>
<text x="324.2" y="386.4" font-size="10.7" fill="#2b2b2b" fill-opacity="0.9" text-anchor="middle" font-weight="bold">TX</text>
<text x="324.2" y="397.4" font-size="10.7" fill="#2b2b2b" fill-opacity="0.62" text-anchor="middle">32.6%</text>
<text x="324.2" y="408.4" font-size="10.7" fill="#2b2b2b" fill-opacity="0.62" text-anchor="middle">#28</text>
<text x="237.5" y="334.9" font-size="10.7" fill="#ffffff" text-anchor="middle" font-weight="bold">NM</text>
<text x="237.5" y="345.9" font-size="10.7" fill="#ffffff" fill-opacity="0.88" text-anchor="middle">40.6%</text>
<text x="237.5" y="356.9" font-size="10.7" fill="#ffffff" fill-opacity="0.88" text-anchor="middle">#6</text>
<text x="441.0" y="360.9" font-size="10.7" fill="#ffffff" text-anchor="middle" font-weight="bold">MS</text>
<text x="440.5" y="371.9" font-size="10.7" fill="#ffffff" fill-opacity="0.88" text-anchor="middle">43.3%</text>
<text x="440.5" y="382.9" font-size="10.7" fill="#ffffff" fill-opacity="0.88" text-anchor="middle">#4</text>
<text x="478.0" y="359.7" font-size="10.7" fill="#ffffff" text-anchor="middle" font-weight="bold">AL</text>
<text x="478.0" y="370.7" font-size="10.7" fill="#ffffff" fill-opacity="0.88" text-anchor="middle">36.8%</text>
<text x="478.0" y="381.7" font-size="10.7" fill="#ffffff" fill-opacity="0.88" text-anchor="middle">#14</text>
<text x="514.5" y="356.5" font-size="10.7" fill="#2b2b2b" fill-opacity="0.9" text-anchor="middle" font-weight="bold">GA</text>
<text x="521.5" y="367.5" font-size="10.7" fill="#2b2b2b" fill-opacity="0.62" text-anchor="middle">34.3%</text>
<text x="522.1" y="378.5" font-size="10.7" fill="#2b2b2b" fill-opacity="0.62" text-anchor="middle">#18</text>
<text x="555.4" y="433.2" font-size="10.7" fill="#2b2b2b" fill-opacity="0.9" text-anchor="middle" font-weight="bold">FL</text>
<text x="559.0" y="444.2" font-size="10.7" fill="#2b2b2b" fill-opacity="0.62" text-anchor="middle">32.8%</text>
<text x="564.2" y="455.2" font-size="10.7" fill="#2b2b2b" fill-opacity="0.62" text-anchor="middle">#27</text>
<text x="537.0" y="333.9" font-size="10.7" fill="#2b2b2b" fill-opacity="0.9" text-anchor="middle" font-weight="bold">SC</text>
<text x="552.0" y="344.9" font-size="10.7" fill="#2b2b2b" fill-opacity="0.62" text-anchor="middle">31.9%</text>
<text x="552.0" y="355.9" font-size="10.7" fill="#2b2b2b" fill-opacity="0.62" text-anchor="middle">#30</text>
<text x="642.5" y="134.9" font-size="10.7" fill="#2b2b2b" fill-opacity="0.9" text-anchor="middle" font-weight="bold">ME</text>
<text x="646.0" y="145.9" font-size="10.7" fill="#2b2b2b" fill-opacity="0.62" text-anchor="middle">34.3%</text>
<text x="638.0" y="156.9" font-size="10.7" fill="#2b2b2b" fill-opacity="0.62" text-anchor="middle">#19</text>
<text x="100.5" y="412.9" font-size="10.7" fill="#ffffff" text-anchor="middle" font-weight="bold">AK</text>
<text x="100.5" y="423.9" font-size="10.7" fill="#ffffff" fill-opacity="0.88" text-anchor="middle">39.3%</text>
<text x="100.5" y="434.9" font-size="10.7" fill="#ffffff" fill-opacity="0.88" text-anchor="middle">#7</text>
<text x="199.0" y="461.9" font-size="10.7" fill="#2b2b2b" fill-opacity="0.9" text-anchor="middle" font-weight="bold">HI</text>
<text x="201.4" y="472.9" font-size="10.7" fill="#2b2b2b" fill-opacity="0.62" text-anchor="middle">20.7%</text>
<text x="201.4" y="483.9" font-size="10.7" fill="#2b2b2b" fill-opacity="0.62" text-anchor="middle">#50</text>
<text x="499.5" y="287.6" font-size="10.7" fill="#ffffff" text-anchor="middle" font-weight="bold">KY</text>
<text x="491.2" y="300.1" font-size="10.7" fill="#ffffff" fill-opacity="0.88" text-anchor="middle">38.9% #8</text>
<text x="480.0" y="319.6" font-size="10.7" fill="#ffffff" text-anchor="middle" font-weight="bold">TN</text>
<text x="472.5" y="330.1" font-size="10.7" fill="#ffffff" fill-opacity="0.88" text-anchor="middle">37.7% #11</text>
<text x="564.5" y="310.1" font-size="10.7" fill="#2b2b2b" fill-opacity="0.9" text-anchor="middle" font-weight="bold">NC</text>
<text x="561.2" y="320.1" font-size="10.7" fill="#2b2b2b" fill-opacity="0.62" text-anchor="middle">30.5% #35</text>
<text x="405.0" y="399.4" font-size="10.7" fill="#ffffff" text-anchor="middle" font-weight="bold">LA</text>
<text x="416.8" y="411.9" font-size="10.7" fill="#ffffff" fill-opacity="0.88" text-anchor="middle">43.7% #3</text>
<text x="518.0" y="117.9" font-size="10.7" fill="#2f2f2f" text-anchor="end" font-weight="bold">VT</text>
<text x="518.0" y="129.4" font-size="10.7" fill="#6e6e6e" text-anchor="end">33%</text>
<text x="518.0" y="140.6" font-size="10.7" fill="#6e6e6e" text-anchor="end">#24</text>
<text x="583.8" y="117.9" font-size="10.7" fill="#2f2f2f" text-anchor="end" font-weight="bold">NH</text>
<text x="583.8" y="129.4" font-size="10.7" fill="#6e6e6e" text-anchor="end">33.2%</text>
<text x="583.8" y="140.6" font-size="10.7" fill="#6e6e6e" text-anchor="end">#22</text>
<text x="656.7" y="229.5" font-size="10.7" fill="#2f2f2f" text-anchor="end" font-weight="bold">MA</text>
<text x="656.7" y="241.0" font-size="10.7" fill="#6e6e6e" text-anchor="end">28.7%</text>
<text x="656.7" y="252.2" font-size="10.7" fill="#6e6e6e" text-anchor="end">#39</text>
<text x="656.7" y="266.1" font-size="10.7" fill="#2f2f2f" text-anchor="end" font-weight="bold">RI</text>
<text x="656.7" y="277.6" font-size="10.7" fill="#6e6e6e" text-anchor="end">32.8%</text>
<text x="656.7" y="288.8" font-size="10.7" fill="#6e6e6e" text-anchor="end">#25</text>
<text x="656.7" y="302.7" font-size="10.7" fill="#2f2f2f" text-anchor="end" font-weight="bold">CT</text>
<text x="656.7" y="314.2" font-size="10.7" fill="#6e6e6e" text-anchor="end">27%</text>
<text x="656.7" y="325.4" font-size="10.7" fill="#6e6e6e" text-anchor="end">#43</text>
<text x="656.7" y="339.3" font-size="10.7" fill="#2f2f2f" text-anchor="end" font-weight="bold">NJ</text>
<text x="656.7" y="350.8" font-size="10.7" fill="#6e6e6e" text-anchor="end">28.7%</text>
<text x="656.7" y="362.0" font-size="10.7" fill="#6e6e6e" text-anchor="end">#40</text>
<text x="656.7" y="375.9" font-size="10.7" fill="#2f2f2f" text-anchor="end" font-weight="bold">DE</text>
<text x="656.7" y="387.4" font-size="10.7" fill="#6e6e6e" text-anchor="end">28.1%</text>
<text x="656.7" y="398.6" font-size="10.7" fill="#6e6e6e" text-anchor="end">#42</text>
<text x="656.7" y="412.5" font-size="10.7" fill="#2f2f2f" text-anchor="end" font-weight="bold">MD</text>
<text x="656.7" y="424.0" font-size="10.7" fill="#6e6e6e" text-anchor="end">31.2%</text>
<text x="656.7" y="435.2" font-size="10.7" fill="#6e6e6e" text-anchor="end">#31</text>
<text x="20.7" y="506.7" font-size="10.1" fill="#5a5a5a" lengthAdjust="spacingAndGlyphs" textLength="418.3">Note: Figures are calculated by dividing each state's &quot;Federal Intergovernmental Revenue&quot; by</text>
<text x="20.7" y="518.6" font-size="10.1" fill="#5a5a5a" lengthAdjust="spacingAndGlyphs" textLength="421.6">its &quot;General Revenue.&quot; &quot;Federal Intergovernmental Revenue&quot; includes money transferred from</text>
<text x="20.7" y="530.4" font-size="10.1" fill="#5a5a5a" lengthAdjust="spacingAndGlyphs" textLength="401.6">the federal government to states.&quot;General Revenue&quot; includes all tax revenue but excludes</text>
<text x="20.7" y="542.2" font-size="10.1" fill="#5a5a5a" lengthAdjust="spacingAndGlyphs" textLength="418.3">utility revenue, liquor store revenue, and investment income from state pension funds. D.C. is</text>
<text x="20.7" y="554.1" font-size="10.1" fill="#5a5a5a" lengthAdjust="spacingAndGlyphs" textLength="375.0">designated as a local entity by the U.S. Census Bureau and is thus not included here.</text>
<text x="20.7" y="569.4" font-size="10.1" fill="#5a5a5a" lengthAdjust="spacingAndGlyphs" textLength="391.6">Sources: U.S. Census Bureau, &quot;Annual Survey of State and Local Government Finances&quot;;</text>
<text x="20.7" y="581.6" font-size="10.1" fill="#5a5a5a" lengthAdjust="spacingAndGlyphs" textLength="126">Tax Foundation calculations.</text>
<text x="527" y="505" font-size="9.8" fill="#505050" textLength="120" lengthAdjust="spacingAndGlyphs">Federal Aid as a Percentage</text>
<text x="533.5" y="516.3" font-size="9.8" fill="#505050" textLength="110.5" lengthAdjust="spacingAndGlyphs">of State General Revenue</text>
<rect x="482.8" y="524.7" width="13.4" height="23" fill="#fefee6"/>
<rect x="502.0" y="524.7" width="13.4" height="23" fill="#f9fcc0"/>
<rect x="521.2" y="524.7" width="13.4" height="23" fill="#e3f4a6"/>
<rect x="540.3" y="524.7" width="13.4" height="23" fill="#c6e79a"/>
<rect x="559.5" y="524.7" width="13.4" height="23" fill="#a5da8d"/>
<rect x="578.7" y="524.7" width="13.4" height="23" fill="#74c476"/>
<rect x="597.9" y="524.7" width="13.4" height="23" fill="#49b063"/>
<rect x="617.1" y="524.7" width="13.4" height="23" fill="#2d9850"/>
<rect x="636.2" y="524.7" width="13.4" height="23" fill="#1b8344"/>
<rect x="655.4" y="524.7" width="13.4" height="23" fill="#0b6837"/>
<rect x="674.6" y="524.7" width="13.4" height="23" fill="#054c2b"/>
<text x="482.5" y="558.5" font-size="9.8" fill="#666">Lower</text>
<text x="688.5" y="558.5" font-size="9.8" fill="#666" text-anchor="end">Higher</text>
</g>
<rect x="0" y="589.5" width="720" height="24.5" fill="#0a94f5"/>
<g filter="url(#soft)">
<text x="18.5" y="606" font-size="13" fill="#fff" stroke="#fff" stroke-width="0.35" textLength="113" lengthAdjust="spacingAndGlyphs">TAX FOUNDATION</text>
<text x="607.8" y="606.2" font-size="11.8" font-weight="bold" fill="#fff" textLength="92.7" lengthAdjust="spacingAndGlyphs">@TaxFoundation</text>
</g>
</svg></body></html>
